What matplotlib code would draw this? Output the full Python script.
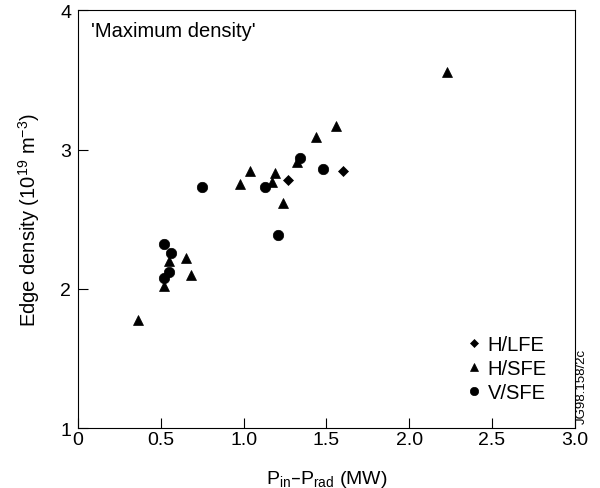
import matplotlib
matplotlib.use("Agg")
import matplotlib.pyplot as plt

plt.rcParams['font.family'] = ['Liberation Sans', 'DejaVu Sans']

# H/LFE (diamonds)
hlfe_x = [1.60, 1.27]
hlfe_y = [2.85, 2.78]
# H/SFE (triangles)
hsfe_x = [2.23, 1.56, 1.44, 1.32, 1.04, 1.19, 0.98, 1.17, 1.24, 0.65, 0.55, 0.68, 0.52, 0.36]
hsfe_y = [3.56, 3.17, 3.09, 2.91, 2.85, 2.83, 2.75, 2.77, 2.62, 2.22, 2.20, 2.10, 2.02, 1.78]
# V/SFE (circles)
vsfe_x = [1.34, 1.48, 0.75, 1.13, 1.21, 0.52, 0.56, 0.55, 0.52]
vsfe_y = [2.94, 2.86, 2.73, 2.73, 2.39, 2.32, 2.26, 2.12, 2.08]

xticks = [0, 0.5, 1.0, 1.5, 2.0, 2.5, 3.0]
xticklabels = ['0', '0.5', '1.0', '1.5', '2.0', '2.5', '3.0']
yticks = [1, 2, 3, 4]

fig = plt.figure(figsize=(6.0, 4.89), dpi=100)
ax = fig.add_axes([0.13, 0.122, 0.828, 0.855])

ax.plot(hlfe_x, hlfe_y, linestyle='none', marker='D', color='black', markersize=5.5,
        markeredgewidth=0.5, label='H/LFE')
ax.plot(hsfe_x, hsfe_y, linestyle='none', marker='^', color='black', markersize=7.5,
        markeredgewidth=0.5, label='H/SFE')
ax.plot(vsfe_x, vsfe_y, linestyle='none', marker='o', color='black', markersize=7.5,
        markeredgewidth=0.5, label='V/SFE')

ax.set_xlim(0, 3.0)
ax.set_ylim(1, 4)
ax.set_xticks(xticks)
ax.set_xticklabels(xticklabels)
ax.set_yticks(yticks)
ax.tick_params(direction='in', length=7, width=0.8, labelsize=14)
ax.tick_params(axis='x', pad=2)
ax.tick_params(axis='y', pad=5)
for s in ax.spines.values():
    s.set_linewidth(0.8)

ax.set_xlabel('P$_{\\mathregular{in}}$–P$_{\\mathregular{rad}}$ (MW)', fontsize=14, labelpad=14)
ax.set_ylabel('Edge density (10$^{\\mathregular{19}}$ m$^{\\mathregular{-3}}$)', fontsize=14.5, labelpad=13)

ax.text(0.027, 0.975, "'Maximum density'", transform=ax.transAxes, fontsize=14.5, va='top', ha='left')

leg = ax.legend(loc='lower right', frameon=False, fontsize=14.5, handletextpad=0.1,
                handlelength=1.2, labelspacing=0.25, markerscale=0.8,
                bbox_to_anchor=(0.98, 0.02))

fig.text(0.97, 0.21, 'JG98.158/2c', rotation=90, fontsize=9.5, ha='center', va='center')

fig.savefig('out.png', dpi=100)
